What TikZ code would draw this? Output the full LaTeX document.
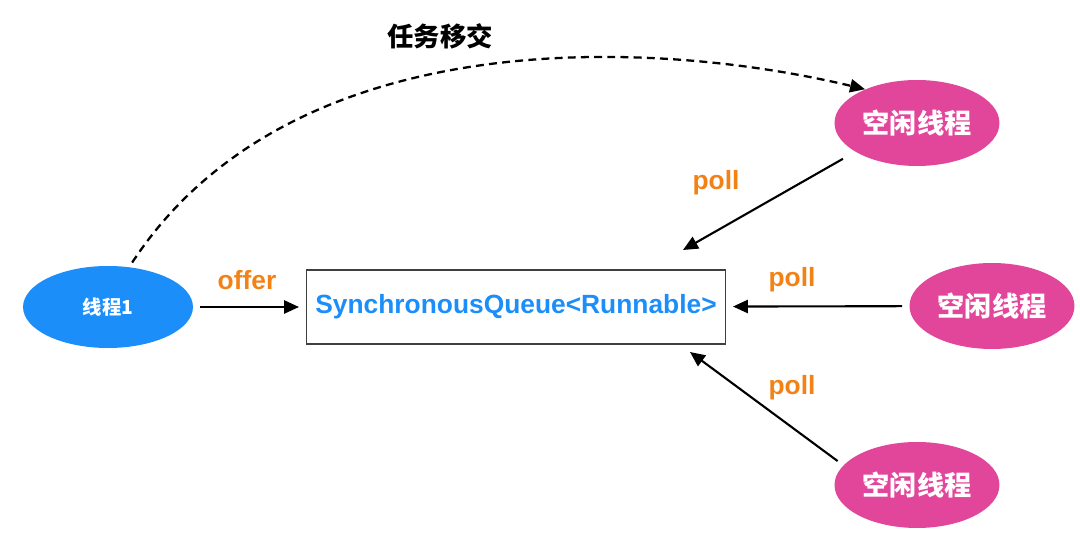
\documentclass[tikz,border=0pt]{standalone}
\usepackage{fontspec}
\setmainfont{Liberation Sans}
\newfontfamily\cjk{Noto Sans CJK SC}
\usepackage{xcolor}
\usetikzlibrary{shapes.geometric, arrows.meta}

\definecolor{threadblue}{RGB}{28,142,250}
\definecolor{idlepink}{RGB}{226,70,154}
\definecolor{labelorange}{RGB}{243,130,22}

\begin{document}
\begin{tikzpicture}[
    x=0.02cm, y=-0.02cm,
    blob/.style={ellipse, inner sep=0pt, text=white, font=\cjk\bfseries},
    thr/.style={blob, fill=threadblue, minimum width=3.4cm, minimum height=1.64cm, font=\cjk\bfseries\fontsize{11}{13}\selectfont},
    idle/.style={blob, fill=idlepink, minimum width=3.3cm, minimum height=1.72cm, font=\cjk\bfseries\fontsize{15.5}{18}\selectfont},
    queuebox/.style={draw=black!75, line width=0.6pt, minimum width=8.38cm, minimum height=1.48cm, text=threadblue, font=\bfseries\fontsize{15}{18}\selectfont},
    arr/.style={-{Triangle[length=8.5pt, width=7.5pt]}, line width=1.2pt},
    lbl/.style={text=labelorange, font=\bfseries\fontsize{15}{18}\selectfont},
]
\useasboundingbox (0,0) rectangle (1080,543);

% producer and queue
\node[thr] (thread) at (108,307) {线程1};
\node[queuebox] (queue) at (516,307) {SynchronousQueue<Runnable>};
\draw[arr, shorten <=4pt, shorten >=4pt] (thread) -- (queue);
\node[lbl] (offer) at (247,280) {offer};

% idle consumers
\node[idle] (idleA) at (917,123) {空闲线程};
\node[idle] (idleB) at (992,306) {空闲线程};
\node[idle] (idleC) at (917,485) {空闲线程};

\coordinate (qinA) at (683,250);
\coordinate (qinC) at (690,352);

\draw[arr, shorten <=8pt] (idleA.205) -- (qinA);
\node[lbl] (pollA) at (716,183) {poll};
\draw[arr, shorten <=4pt, shorten >=4pt] (idleB) -- (queue);
\node[lbl] (pollB) at (792,280) {poll};
\draw[arr, shorten <=4pt] (idleC.165) -- (qinC);
\node[lbl] (pollC) at (792,388) {poll};

% hand-off
\draw[arr, line width=1.3pt, dash pattern=on 4.5pt off 3pt, shorten <=3pt, shorten >=0pt]
    (thread.62) .. controls (290,22) and (650,38) .. (idleA.147);
\node[font=\cjk\bfseries\fontsize{15}{18}\selectfont] (handoff) at (440,36) {任务移交};

\end{tikzpicture}
\end{document}
